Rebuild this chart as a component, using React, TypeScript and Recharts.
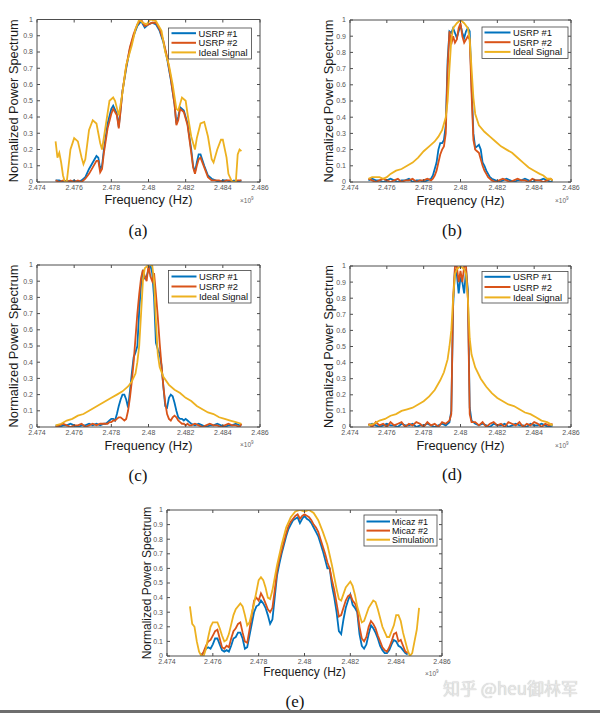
import React from 'react';
import { LineChart, Line, XAxis, YAxis, Customized } from 'recharts';

const SANS = '"Liberation Sans", Arial, Helvetica, sans-serif';
const SERIF = '"Liberation Serif", "Times New Roman", serif';
const BLUE = '#0072BD';
const ORANGE = '#D95319';
const YELLOW = '#EDB120';

const freqTicks = [2.474, 2.476, 2.478, 2.48, 2.482, 2.484, 2.486];
const powerTicks = [0, 0.1, 0.2, 0.3, 0.4, 0.5, 0.6, 0.7, 0.8, 0.9, 1];
const usrpLabels = ['USRP #1', 'USRP #2', 'Ideal Signal'];
const micazLabels = ['Micaz #1', 'Micaz #2', 'Simulation'];
const captions = ['(a)', '(b)', '(c)', '(d)', '(e)'];

// ---------- (a) ----------
const aIdealFreq = [2.475, 2.4751, 2.4752, 2.4753, 2.4754, 2.4755, 2.4756, 2.4758, 2.476, 2.4762, 2.4764, 2.4765, 2.4766, 2.4768, 2.477, 2.4772, 2.4774, 2.4775, 2.4777, 2.4779, 2.4781, 2.4782, 2.4784, 2.4786, 2.4788, 2.4791, 2.4793, 2.4795, 2.4797, 2.4799, 2.4801, 2.4804, 2.4807, 2.4809, 2.4811, 2.4813, 2.4815, 2.4816, 2.4818, 2.482, 2.4821, 2.4823, 2.4825, 2.4826, 2.4828, 2.483, 2.4832, 2.4834, 2.4835, 2.4837, 2.4839, 2.484, 2.4842, 2.4843, 2.4845, 2.4847, 2.4848, 2.4849, 2.485];
const aIdeal = [0.25, 0.15, 0.18, 0.12, 0.04, 0.0, 0.0, 0.2, 0.27, 0.25, 0.15, 0.11, 0.14, 0.32, 0.38, 0.36, 0.24, 0.2, 0.35, 0.5, 0.52, 0.5, 0.41, 0.55, 0.72, 0.84, 0.94, 1.0, 0.98, 0.97, 1.0, 0.99, 0.93, 0.8, 0.72, 0.6, 0.45, 0.44, 0.52, 0.5, 0.42, 0.28, 0.2, 0.27, 0.36, 0.37, 0.28, 0.14, 0.12, 0.2, 0.26, 0.26, 0.15, 0.05, 0.0, 0.0, 0.17, 0.2, 0.19];
const aUsrpFreq = [2.475, 2.4752, 2.4754, 2.4756, 2.4758, 2.476, 2.4762, 2.4764, 2.4766, 2.4768, 2.477, 2.4772, 2.4773, 2.4774, 2.4775, 2.4776, 2.4778, 2.478, 2.4781, 2.4783, 2.4784, 2.4785, 2.4786, 2.4788, 2.479, 2.4792, 2.4794, 2.4796, 2.4798, 2.48, 2.4802, 2.4804, 2.4806, 2.4808, 2.481, 2.4812, 2.4814, 2.4815, 2.4816, 2.4817, 2.4819, 2.4821, 2.4823, 2.4824, 2.4825, 2.4826, 2.4827, 2.4828, 2.483, 2.4832, 2.4834, 2.4836, 2.4838, 2.484, 2.4842, 2.4844, 2.4846, 2.4848, 2.485];
const aUsrp1 = [0.01, 0.01, 0.0, 0.01, 0.0, 0.01, 0.0, 0.01, 0.03, 0.08, 0.12, 0.16, 0.15, 0.08, 0.1, 0.2, 0.36, 0.45, 0.47, 0.42, 0.34, 0.45, 0.56, 0.7, 0.82, 0.9, 0.96, 0.99, 0.95, 0.97, 0.98, 0.97, 0.93, 0.86, 0.76, 0.63, 0.48, 0.36, 0.4, 0.46, 0.44, 0.36, 0.2, 0.1, 0.06, 0.12, 0.17, 0.17, 0.1, 0.04, 0.02, 0.01, 0.0, 0.01, 0.01, 0.0, 0.01, 0.0, 0.01];
const aUsrp2 = [0.01, 0.0, 0.01, 0.0, 0.01, 0.0, 0.01, 0.0, 0.02, 0.05, 0.09, 0.13, 0.13, 0.06, 0.08, 0.18, 0.33, 0.42, 0.45, 0.41, 0.33, 0.44, 0.56, 0.71, 0.83, 0.91, 0.97, 1.0, 0.96, 0.97, 0.98, 0.98, 0.94, 0.87, 0.77, 0.64, 0.48, 0.35, 0.38, 0.45, 0.43, 0.35, 0.18, 0.09, 0.05, 0.1, 0.14, 0.15, 0.09, 0.03, 0.01, 0.01, 0.01, 0.0, 0.01, 0.01, 0.0, 0.01, 0.01];

// ---------- (b) ----------
const bUsrpFreq = [2.475, 2.4752, 2.4754, 2.4756, 2.4758, 2.476, 2.4762, 2.4764, 2.4766, 2.4768, 2.477, 2.4772, 2.4774, 2.4776, 2.4778, 2.478, 2.4782, 2.4784,
  2.4785, 2.4786, 2.4787, 2.4788, 2.4789, 2.479, 2.4791, 2.4792, 2.4793, 2.4794, 2.4795, 2.4796, 2.4797, 2.4798, 2.4799, 2.48, 2.4801, 2.4802, 2.4803, 2.4804, 2.4805, 2.4806, 2.4807, 2.4808, 2.4809, 2.481, 2.4811, 2.4812, 2.4813, 2.4814, 2.4815, 2.4816, 2.4817,
  2.4819, 2.4821, 2.4823, 2.4825, 2.4827, 2.4829, 2.4831, 2.4833, 2.4835, 2.4837, 2.4839, 2.4841, 2.4843, 2.4845, 2.4847, 2.4849, 2.485];
const bUsrp1 = [0.01, 0.02, 0.01, 0.01, 0.0, 0.01, 0.02, 0.01, 0.0, 0.01, 0.01, 0.02, 0.0, 0.01, 0.01, 0.0, 0.01, 0.02,
  0.04, 0.08, 0.12, 0.2, 0.24, 0.24, 0.26, 0.35, 0.75, 0.93, 0.92, 0.95, 0.92, 0.89, 0.93, 0.97, 0.92, 0.89, 0.93, 0.95, 0.93, 0.6, 0.3, 0.21, 0.22, 0.23, 0.2, 0.12, 0.1, 0.07, 0.05, 0.03, 0.02,
  0.01, 0.0, 0.01, 0.02, 0.01, 0.0, 0.01, 0.01, 0.02, 0.01, 0.0, 0.01, 0.01, 0.02, 0.01, 0.0, 0.01];
const bUsrp2 = [0.02, 0.01, 0.0, 0.01, 0.02, 0.01, 0.0, 0.01, 0.02, 0.0, 0.01, 0.01, 0.02, 0.0, 0.01, 0.01, 0.02, 0.01,
  0.02, 0.04, 0.07, 0.12, 0.17, 0.2, 0.22, 0.3, 0.7, 0.93, 0.85, 0.9, 0.86, 0.88, 0.95, 0.98, 0.9, 0.86, 0.88, 0.9, 0.88, 0.55, 0.26, 0.2, 0.19, 0.18, 0.14, 0.1, 0.07, 0.05, 0.03, 0.02, 0.01,
  0.0, 0.01, 0.02, 0.01, 0.0, 0.01, 0.02, 0.01, 0.01, 0.0, 0.02, 0.01, 0.01, 0.0, 0.01, 0.02, 0.01];
const bIdealFreq = [2.475, 2.4752, 2.4754, 2.4756, 2.4758, 2.476, 2.4762, 2.4765, 2.4768, 2.4771, 2.4774, 2.4777, 2.478, 2.4783, 2.4786, 2.4788, 2.479, 2.4792, 2.4793, 2.4794, 2.4795, 2.4796, 2.4798, 2.48, 2.4802, 2.4804, 2.4805, 2.4806, 2.4807, 2.4808, 2.481, 2.4813, 2.4816, 2.4819, 2.4822, 2.4825, 2.4828, 2.4831, 2.4834, 2.4837, 2.484, 2.4843, 2.4845, 2.4847, 2.4849, 2.485];
const bIdeal = [0.02, 0.03, 0.03, 0.03, 0.02, 0.03, 0.05, 0.07, 0.08, 0.1, 0.12, 0.15, 0.19, 0.22, 0.25, 0.28, 0.32, 0.4, 0.5, 0.7, 0.88, 0.95, 0.98, 1.0, 0.98, 0.95, 0.88, 0.7, 0.52, 0.42, 0.35, 0.31, 0.28, 0.25, 0.22, 0.2, 0.18, 0.15, 0.12, 0.09, 0.07, 0.05, 0.04, 0.02, 0.02, 0.01];

// ---------- (c) ----------
const cUsrpFreq = [2.475, 2.4752, 2.4754, 2.4756, 2.4758, 2.476, 2.4762, 2.4764, 2.4766, 2.4768, 2.477, 2.4772, 2.4774, 2.4776,
  2.4777, 2.4778, 2.4779, 2.478, 2.4781, 2.4782, 2.4783, 2.4784, 2.4785, 2.4786, 2.4787, 2.4788, 2.4789, 2.479, 2.4791, 2.4792, 2.4793, 2.4794, 2.4795, 2.4796, 2.4797, 2.4798, 2.4799, 2.48, 2.4801, 2.4802, 2.4803, 2.4804, 2.4805, 2.4806, 2.4807, 2.4808, 2.4809, 2.481, 2.4811, 2.4812, 2.4813, 2.4814, 2.4815, 2.4816, 2.4817, 2.4818, 2.4819, 2.482, 2.4821, 2.4822, 2.4823,
  2.4825, 2.4827, 2.4829, 2.4831, 2.4833, 2.4835, 2.4837, 2.4839, 2.4841, 2.4843, 2.4845, 2.4847, 2.4849, 2.485];
const cUsrp1 = [0.01, 0.0, 0.01, 0.01, 0.02, 0.01, 0.0, 0.01, 0.01, 0.02, 0.01, 0.02, 0.01, 0.02,
  0.02, 0.03, 0.04, 0.05, 0.05, 0.04, 0.08, 0.13, 0.17, 0.2, 0.2, 0.17, 0.12, 0.22, 0.33, 0.43, 0.46, 0.5, 0.72, 0.88, 0.97, 0.92, 0.93, 0.97, 1.0, 0.95, 0.8, 0.52, 0.48, 0.45, 0.38, 0.25, 0.13, 0.12, 0.18, 0.2, 0.19, 0.15, 0.1, 0.06, 0.05, 0.05, 0.04, 0.05, 0.04, 0.03, 0.02,
  0.01, 0.02, 0.01, 0.0, 0.01, 0.01, 0.02, 0.01, 0.0, 0.01, 0.01, 0.02, 0.01, 0.01];
const cUsrp2 = [0.0, 0.01, 0.02, 0.01, 0.0, 0.01, 0.01, 0.02, 0.0, 0.01, 0.02, 0.01, 0.02, 0.02,
  0.02, 0.02, 0.03, 0.03, 0.04, 0.04, 0.05, 0.06, 0.06, 0.05, 0.04, 0.05, 0.1, 0.18, 0.28, 0.4, 0.55, 0.7, 0.82, 0.92, 0.97, 0.93, 0.9, 1.0, 0.93, 0.9, 0.95, 0.82, 0.68, 0.52, 0.38, 0.25, 0.15, 0.08, 0.05, 0.04, 0.06, 0.07, 0.06, 0.04, 0.03, 0.02, 0.02, 0.01, 0.02, 0.01, 0.01,
  0.02, 0.01, 0.0, 0.01, 0.02, 0.01, 0.01, 0.0, 0.01, 0.02, 0.01, 0.01, 0.0, 0.02];
const cIdealFreq = [2.475, 2.4753, 2.4756, 2.4759, 2.4762, 2.4765, 2.4768, 2.4771, 2.4774, 2.4777, 2.478, 2.4783, 2.4786, 2.4789, 2.4791, 2.4793, 2.4794, 2.4795, 2.4796, 2.4797, 2.4798, 2.48, 2.4802, 2.4803, 2.4804, 2.4805, 2.4806, 2.4808, 2.4811, 2.4814, 2.4817, 2.482, 2.4823, 2.4826, 2.4829, 2.4832, 2.4835, 2.4838, 2.4841, 2.4844, 2.4847, 2.485];
const cIdeal = [0.01, 0.02, 0.04, 0.05, 0.07, 0.08, 0.1, 0.12, 0.14, 0.16, 0.18, 0.2, 0.22, 0.25, 0.28, 0.33, 0.4, 0.5, 0.7, 0.9, 0.98, 1.0, 1.0, 0.9, 0.65, 0.45, 0.37, 0.31, 0.26, 0.23, 0.21, 0.18, 0.16, 0.13, 0.11, 0.09, 0.08, 0.06, 0.05, 0.04, 0.03, 0.02];

// ---------- (d) ----------
const dUsrpFreq = [2.475, 2.4752, 2.4754, 2.4756, 2.4758, 2.476, 2.4762, 2.4764, 2.4766, 2.4768, 2.477, 2.4772, 2.4774, 2.4776, 2.4778, 2.478, 2.4782, 2.4784, 2.4786, 2.4788, 2.479, 2.4792, 2.4794,
  2.4795, 2.4796, 2.4797, 2.4798, 2.4799, 2.48, 2.4801, 2.4802, 2.4803, 2.4804, 2.4805, 2.4806,
  2.4808, 2.481, 2.4812, 2.4814, 2.4816, 2.4818, 2.482, 2.4822, 2.4824, 2.4826, 2.4828, 2.483, 2.4832, 2.4834, 2.4836, 2.4838, 2.484, 2.4842, 2.4844, 2.4846, 2.4848, 2.485];
const dUsrp1 = [0.01, 0.02, 0.01, 0.0, 0.01, 0.02, 0.01, 0.01, 0.0, 0.02, 0.01, 0.01, 0.02, 0.0, 0.01, 0.01, 0.02, 0.01, 0.0, 0.01, 0.02, 0.01, 0.03,
  0.1, 0.75, 0.98, 0.95, 0.83, 0.93, 0.9, 0.83, 0.98, 0.85, 0.12, 0.04,
  0.02, 0.01, 0.02, 0.01, 0.0, 0.02, 0.01, 0.01, 0.02, 0.0, 0.01, 0.02, 0.01, 0.01, 0.0, 0.02, 0.01, 0.01, 0.02, 0.01, 0.0, 0.01];
const dUsrp2 = [0.02, 0.0, 0.03, 0.01, 0.02, 0.0, 0.03, 0.01, 0.02, 0.03, 0.0, 0.02, 0.01, 0.03, 0.02, 0.0, 0.03, 0.01, 0.02, 0.0, 0.03, 0.02, 0.04,
  0.08, 0.8, 1.0, 1.0, 0.9, 0.97, 0.9, 1.0, 1.0, 0.8, 0.08, 0.03,
  0.03, 0.01, 0.03, 0.0, 0.02, 0.03, 0.01, 0.02, 0.0, 0.03, 0.02, 0.01, 0.03, 0.0, 0.02, 0.01, 0.03, 0.02, 0.0, 0.02, 0.01, 0.02];
const dIdealFreq = [2.475, 2.4753, 2.4756, 2.4759, 2.4762, 2.4765, 2.4768, 2.4771, 2.4774, 2.4777, 2.478, 2.4783, 2.4786, 2.4789, 2.4791, 2.4793, 2.4794, 2.4795, 2.4796, 2.4797, 2.4798, 2.48, 2.4802, 2.4803, 2.4804, 2.4805, 2.4806, 2.4808, 2.4811, 2.4814, 2.4817, 2.482, 2.4823, 2.4826, 2.4829, 2.4832, 2.4835, 2.4838, 2.4841, 2.4844, 2.4847, 2.485];
const dIdeal = [0.01, 0.02, 0.04, 0.05, 0.07, 0.08, 0.1, 0.11, 0.12, 0.14, 0.16, 0.19, 0.23, 0.29, 0.34, 0.42, 0.5, 0.6, 0.8, 0.95, 0.98, 1.0, 0.98, 0.95, 0.8, 0.55, 0.45, 0.37, 0.3, 0.25, 0.21, 0.18, 0.16, 0.14, 0.13, 0.11, 0.09, 0.08, 0.06, 0.04, 0.03, 0.01];

// ---------- (e) ----------
const eSimFreq = [2.475, 2.4751, 2.4752, 2.4753, 2.4754, 2.4755, 2.4756, 2.4757, 2.4758, 2.4759, 2.476, 2.4762, 2.4763, 2.4764, 2.4765, 2.4766, 2.4767, 2.4769, 2.477, 2.4772, 2.4773, 2.4774, 2.4775, 2.4776, 2.4778, 2.478, 2.4781, 2.4782, 2.4783, 2.4784, 2.4785, 2.4786, 2.4788, 2.479, 2.4792, 2.4794, 2.4796, 2.4798, 2.48, 2.4802, 2.4804, 2.4806, 2.4808, 2.481, 2.4812, 2.4814, 2.4815, 2.4816, 2.4818, 2.482, 2.4821, 2.4822, 2.4823, 2.4825, 2.4826, 2.4828, 2.483, 2.4831, 2.4832, 2.4834, 2.4836, 2.4837, 2.4839, 2.484, 2.4841, 2.4842, 2.4843, 2.4844, 2.4845, 2.4846, 2.4847, 2.4848, 2.4849, 2.485];
const eSim = [0.34, 0.22, 0.2, 0.1, 0.03, 0.0, 0.0, 0.05, 0.13, 0.2, 0.23, 0.23, 0.19, 0.14, 0.1, 0.11, 0.15, 0.28, 0.32, 0.36, 0.34, 0.28, 0.21, 0.23, 0.36, 0.52, 0.54, 0.52, 0.47, 0.4, 0.39, 0.45, 0.62, 0.76, 0.88, 0.95, 0.99, 1.0, 0.99, 1.0, 0.98, 0.93, 0.85, 0.76, 0.62, 0.46, 0.39, 0.38, 0.47, 0.51, 0.48, 0.42, 0.34, 0.23, 0.24, 0.33, 0.38, 0.37, 0.32, 0.2, 0.13, 0.13, 0.21, 0.28, 0.28, 0.24, 0.16, 0.1, 0.04, 0.0, 0.02, 0.1, 0.18, 0.33];
const eMicazFreq = [2.4755, 2.4756, 2.4757, 2.4758, 2.4759, 2.476, 2.4761, 2.4762, 2.4763, 2.4764, 2.4765, 2.4766, 2.4767, 2.4768, 2.4769, 2.477, 2.4771, 2.4772, 2.4773, 2.4774, 2.4775, 2.4776, 2.4777, 2.4778, 2.4779, 2.478, 2.4781, 2.4782, 2.4783, 2.4784, 2.4785, 2.4786, 2.4787, 2.4788, 2.4789, 2.479, 2.4791, 2.4792, 2.4793, 2.4794, 2.4795, 2.4796, 2.4797, 2.4798, 2.4799, 2.48, 2.4801, 2.4802, 2.4803, 2.4804, 2.4805, 2.4806, 2.4807, 2.4808, 2.4809, 2.481, 2.4811, 2.4812, 2.4813, 2.4814, 2.4815, 2.4816, 2.4817, 2.4818, 2.4819, 2.482, 2.4821, 2.4822, 2.4823, 2.4824, 2.4825, 2.4826, 2.4827, 2.4828, 2.4829, 2.483, 2.4831, 2.4832, 2.4833, 2.4834, 2.4835, 2.4836, 2.4837, 2.4838, 2.4839, 2.484, 2.4841, 2.4842, 2.4843, 2.4844, 2.4845];
const eMicaz1 = [0.01, 0.02, 0.05, 0.06, 0.05, 0.08, 0.12, 0.12, 0.08, 0.04, 0.03, 0.04, 0.03, 0.07, 0.12, 0.13, 0.16, 0.16, 0.12, 0.05, 0.06, 0.14, 0.22, 0.3, 0.34, 0.35, 0.38, 0.36, 0.33, 0.28, 0.22, 0.25, 0.4, 0.55, 0.63, 0.7, 0.76, 0.82, 0.87, 0.9, 0.93, 0.94, 0.95, 0.91, 0.94, 0.96, 0.94, 0.93, 0.91, 0.88, 0.85, 0.82, 0.77, 0.72, 0.66, 0.6, 0.6, 0.48, 0.4, 0.3, 0.17, 0.15, 0.25, 0.33, 0.38, 0.42, 0.35, 0.33, 0.3, 0.15, 0.07, 0.05, 0.08, 0.15, 0.21, 0.19, 0.16, 0.12, 0.07, 0.04, 0.02, 0.02, 0.04, 0.08, 0.11, 0.1, 0.07, 0.06, 0.04, 0.02, 0.01];
const eMicaz2 = [0.0, 0.03, 0.07, 0.1, 0.11, 0.14, 0.17, 0.18, 0.12, 0.06, 0.05, 0.07, 0.06, 0.12, 0.17, 0.19, 0.22, 0.23, 0.16, 0.1, 0.09, 0.18, 0.28, 0.38, 0.4, 0.38, 0.43, 0.4, 0.36, 0.32, 0.3, 0.33, 0.45, 0.58, 0.66, 0.72, 0.78, 0.84, 0.89, 0.92, 0.94, 0.96, 0.97, 0.94, 0.96, 0.97, 0.96, 0.95, 0.93, 0.9, 0.88, 0.85, 0.8, 0.75, 0.7, 0.64, 0.6, 0.52, 0.45, 0.36, 0.27, 0.28, 0.33, 0.38, 0.41, 0.42, 0.38, 0.36, 0.32, 0.2, 0.12, 0.1, 0.13, 0.2, 0.24, 0.22, 0.19, 0.14, 0.1, 0.06, 0.04, 0.03, 0.06, 0.1, 0.15, 0.16, 0.1, 0.11, 0.07, 0.03, 0.02];

type Pt = { f: number; v: number };
const pts = (fs: number[], vs: number[]): Pt[] => {
  const out: Pt[] = [];
  const n = Math.min(fs.length, vs.length);
  for (let i = 0; i < n; i++) out.push({ f: fs[i], v: vs[i] });
  return out;
};

type Series = { name: string; color: string; data: Pt[] };
type Spec = {
  box: { x: number; y: number; w: number; h: number };
  plot: { l: number; t: number; r: number; b: number };
  series: Series[];
  legend: { x: number; y: number; w: number; h: number; l1: number; l2: number; tx: number; rows: number[]; fs: number };
  caption: { text: string; x: number; y: number };
  labelFs: number;
  yLabelX: number;
  xLabelY: number;
  exp: { x: number; y: number };
};

const usrpSeries = (f: number[], s1: number[], s2: number[], fi: number[], si: number[]): Series[] => [
  { name: usrpLabels[0], color: BLUE, data: pts(f, s1) },
  { name: usrpLabels[1], color: ORANGE, data: pts(f, s2) },
  { name: usrpLabels[2], color: YELLOW, data: pts(fi, si) },
];

const specs: Spec[] = [
  {
    box: { x: 0, y: 0, w: 300, h: 245 },
    plot: { l: 37, t: 19.5, r: 260, b: 182 },
    series: usrpSeries(aUsrpFreq, aUsrp1, aUsrp2, aIdealFreq, aIdeal),
    legend: { x: 168.5, y: 28, w: 83, h: 31, l1: 171.5, l2: 196, tx: 198.5, rows: [33.2, 42.8, 52.4], fs: 9.4 },
    caption: { text: captions[0], x: 138, y: 230 },
    labelFs: 12.8, yLabelX: 13, xLabelY: 199.5, exp: { x: 240, y: 200 },
  },
  {
    box: { x: 300, y: 0, w: 300, h: 245 },
    plot: { l: 350, t: 20, r: 571, b: 182 },
    series: usrpSeries(bUsrpFreq, bUsrp1, bUsrp2, bIdealFreq, bIdeal),
    legend: { x: 482, y: 27, w: 86, h: 31.5, l1: 484.5, l2: 510.5, tx: 513, rows: [32.5, 42.2, 51.9], fs: 9.4 },
    caption: { text: captions[1], x: 452, y: 230 },
    labelFs: 12.8, yLabelX: 328, xLabelY: 200, exp: { x: 555, y: 200 },
  },
  {
    box: { x: 0, y: 245, w: 300, h: 245 },
    plot: { l: 37, t: 265, r: 260, b: 427 },
    series: usrpSeries(cUsrpFreq, cUsrp1, cUsrp2, cIdealFreq, cIdeal),
    legend: { x: 168.5, y: 270.5, w: 82.5, h: 32.5, l1: 171.5, l2: 196.5, tx: 199, rows: [276.5, 286.5, 296.5], fs: 9.4 },
    caption: { text: captions[2], x: 138, y: 475 },
    labelFs: 12.8, yLabelX: 13, xLabelY: 445, exp: { x: 240, y: 444 },
  },
  {
    box: { x: 300, y: 245, w: 300, h: 245 },
    plot: { l: 350, t: 266, r: 571, b: 427 },
    series: usrpSeries(dUsrpFreq, dUsrp1, dUsrp2, dIdealFreq, dIdeal),
    legend: { x: 482, y: 271.5, w: 86, h: 31.5, l1: 484.5, l2: 510.5, tx: 513, rows: [276.8, 287, 297.4], fs: 9.4 },
    caption: { text: captions[3], x: 452, y: 474 },
    labelFs: 12.8, yLabelX: 328, xLabelY: 445, exp: { x: 555, y: 445 },
  },
  {
    box: { x: 130, y: 490, w: 340, h: 220 },
    plot: { l: 167, t: 510, r: 442, b: 656 },
    series: [
      { name: micazLabels[0], color: BLUE, data: pts(eMicazFreq, eMicaz1) },
      { name: micazLabels[1], color: ORANGE, data: pts(eMicazFreq, eMicaz2) },
      { name: micazLabels[2], color: YELLOW, data: pts(eSimFreq, eSim) },
    ],
    legend: { x: 364, y: 515, w: 73, h: 31, l1: 366.5, l2: 390, tx: 392, rows: [521.5, 530.6, 539.7], fs: 9 },
    caption: { text: captions[4], x: 295, y: 701 },
    labelFs: 12, yLabelX: 147, xLabelY: 672, exp: { x: 425, y: 673 },
  },
];

const fmtF = (v: number) => String(Number(v.toFixed(3)));
const fmtP = (v: number) => String(Math.round(v * 10) / 10);
const blank = () => '';
const AX = '#4d4d4d';
const tickStyle = { fontSize: 7, fill: '#555', fontFamily: SANS };

function Overlay({ spec }: { spec: Spec }) {
  const ox = spec.box.x;
  const oy = spec.box.y;
  const cx = (spec.plot.l + spec.plot.r) / 2 - ox;
  const cy = (spec.plot.t + spec.plot.b) / 2 - oy;
  const yl = spec.yLabelX - ox;
  const L = spec.legend;
  return (
    <g>
      <text x={yl} y={cy} transform={`rotate(-90 ${yl} ${cy})`} textAnchor="middle" dominantBaseline="central" fontSize={spec.labelFs} fontFamily={SANS} fill="#1a1a1a">
        Normalized Power Spectrum
      </text>
      <text x={cx} y={spec.xLabelY - oy} textAnchor="middle" dominantBaseline="central" fontSize={spec.labelFs} fontFamily={SANS} fill="#1a1a1a">
        Frequency (Hz)
      </text>
      <text x={spec.exp.x - ox} y={spec.exp.y - oy} dominantBaseline="central" fontSize={6.5} fontFamily={SANS} fill="#666">
        ×10<tspan fontSize={4.5} dy={-2.5}>9</tspan>
      </text>
      <rect x={L.x - ox} y={L.y - oy} width={L.w} height={L.h} fill="#ffffff" stroke="#444" strokeWidth={0.8} />
      {spec.series.map((s, i) => (
        <g key={s.name}>
          <line x1={L.l1 - ox} x2={L.l2 - ox} y1={L.rows[i] - oy} y2={L.rows[i] - oy} stroke={s.color} strokeWidth={2} />
          <text x={L.tx - ox} y={L.rows[i] - oy} dominantBaseline="central" fontSize={L.fs} fontFamily={SANS} fill="#111">
            {s.name}
          </text>
        </g>
      ))}
      <text x={spec.caption.x - ox} y={spec.caption.y - oy} textAnchor="middle" dominantBaseline="central" fontSize={17} fontFamily={SERIF} fill="#111">
        {spec.caption.text}
      </text>
    </g>
  );
}

function Panel({ spec }: { spec: Spec }) {
  const { box, plot } = spec;
  const margin = {
    left: plot.l - box.x - 30,
    top: plot.t - box.y - 5,
    right: box.x + box.w - plot.r - 5,
    bottom: box.y + box.h - plot.b - 20,
  };
  return (
    <div style={{ position: 'absolute', left: box.x, top: box.y, width: box.w, height: box.h }}>
      <LineChart width={box.w} height={box.h} margin={margin}>
        <XAxis xAxisId="b" dataKey="f" type="number" domain={[2.474, 2.486]} ticks={freqTicks} interval={0}
          tickFormatter={fmtF} height={20} tickSize={-3} tickMargin={6.5} tick={tickStyle}
          axisLine={{ stroke: AX }} tickLine={{ stroke: AX }} allowDataOverflow />
        <XAxis xAxisId="t" orientation="top" dataKey="f" type="number" domain={[2.474, 2.486]} ticks={freqTicks} interval={0}
          tickFormatter={blank} height={5} tickSize={-3} tick={tickStyle}
          axisLine={{ stroke: AX }} tickLine={{ stroke: AX }} allowDataOverflow />
        <YAxis yAxisId="l" type="number" domain={[0, 1]} ticks={powerTicks} interval={0}
          tickFormatter={fmtP} width={30} tickSize={-3} tickMargin={7} tick={tickStyle}
          axisLine={{ stroke: AX }} tickLine={{ stroke: AX }} allowDataOverflow />
        <YAxis yAxisId="r" orientation="right" type="number" domain={[0, 1]} ticks={powerTicks} interval={0}
          tickFormatter={blank} width={5} tickSize={-3} tick={tickStyle}
          axisLine={{ stroke: AX }} tickLine={{ stroke: AX }} allowDataOverflow />
        {spec.series.map((s) => (
          <Line key={s.name} xAxisId="b" yAxisId="l" data={s.data} dataKey="v" name={s.name} type="linear"
            stroke={s.color} strokeWidth={1.8} dot={false} activeDot={false} isAnimationActive={false} />
        ))}
        <Customized component={() => <Overlay spec={spec} />} />
      </LineChart>
    </div>
  );
}

export default function App() {
  return (
    <div style={{ position: 'absolute', left: 0, top: 0, width: 600, height: 713, background: '#ffffff', overflow: 'hidden' }}>
      {specs.map((s, i) => (
        <Panel key={i} spec={s} />
      ))}
      <div style={{ position: 'absolute', left: 443, top: 677, fontFamily: '"Noto Sans CJK SC", sans-serif', fontSize: 17, color: '#e6e6e6', textShadow: '0 0 1px #b4b4b4', whiteSpace: 'nowrap', lineHeight: '22px' }}>
        知乎 @heu御林军
      </div>
      <div style={{ position: 'absolute', left: 0, top: 710, width: 600, height: 3, background: '#6e6e6e' }} />
    </div>
  );
}
